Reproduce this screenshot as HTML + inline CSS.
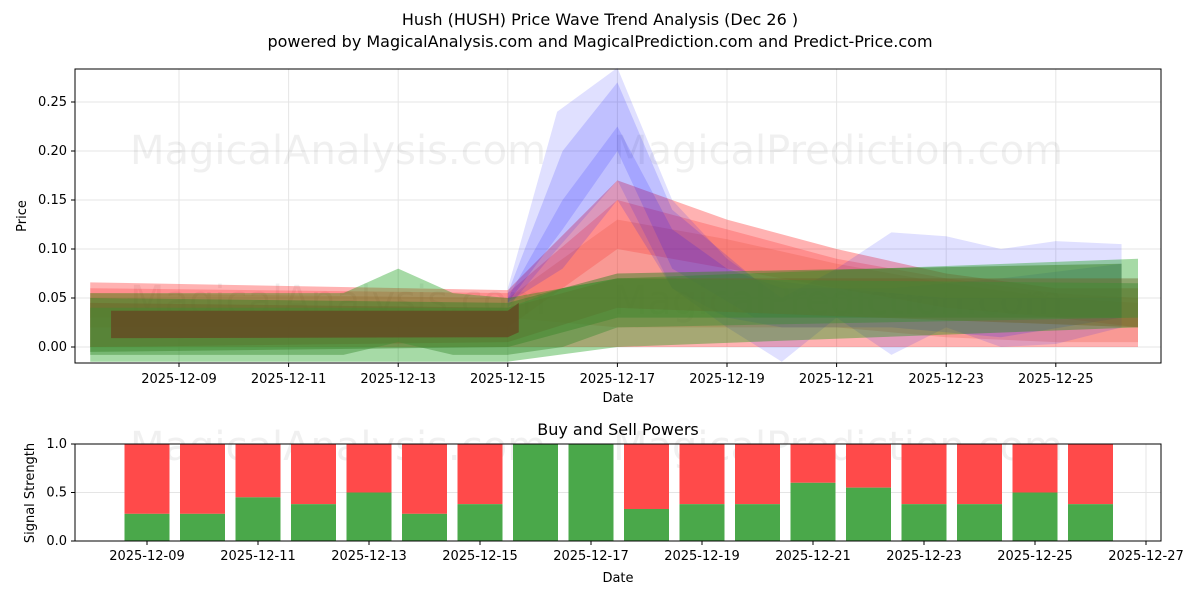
<!DOCTYPE html>
<html><head><meta charset="utf-8"><style>
body{margin:0;background:#fff;font-family:"Liberation Sans","DejaVu Sans",sans-serif}
svg text{font-family:"DejaVu Sans","Liberation Sans",sans-serif}
</style></head><body>
<svg id="c" width="1200" height="600" xmlns="http://www.w3.org/2000/svg">
<rect width="1200" height="600" fill="#fff"/>
<text x="600" y="25" font-size="16" text-anchor="middle">Hush (HUSH) Price Wave Trend Analysis (Dec 26 )</text>
<text x="600" y="47" font-size="16" text-anchor="middle">powered by MagicalAnalysis.com and MagicalPrediction.com and Predict-Price.com</text>
<g id="topg"></g><g id="botg"></g>
</svg>
<script>
// Top chart data
const bandDays = [
 [7.38,15,17,19,21,23,25,26.5],
 [7.38,15,17,19,21,23,25,26.5],
 [7.38,15,17,19,21,23,25,26.5],
 [15,15.9,17,18,19,20,21,22,23,24,25,26.2],
 [15,16,17,18,19.5,21,23,26.2],
 [15,16,17,18,19,20,22,24,26.2],
 [7.38,12,13,14,15,17,26.5],
 [7.38,15,17,26.2],
 [7.38,15,17,26.5],
 [7.38,12,13,14,15,16,17,26.5],
 [7.76,15,15.2]
];
const bandUpper = [
 [0.066,0.058,0.17,0.13,0.1,0.075,0.06,0.06],
 [0.06,0.055,0.15,0.12,0.09,0.07,0.055,0.05],
 [0.055,0.05,0.13,0.11,0.085,0.065,0.05,0.045],
 [0.06,0.24,0.285,0.15,0.09,0.05,0.08,0.117,0.113,0.1,0.108,0.105],
 [0.055,0.2,0.27,0.14,0.07,0.06,0.05,0.05],
 [0.05,0.15,0.225,0.12,0.08,0.06,0.06,0.07,0.085],
 [0.055,0.055,0.08,0.055,0.05,0.07,0.09,0.097],
 [0.05,0.045,0.075,0.085],
 [0.045,0.04,0.07,0.07],
 [0.04,0.04,0.04,0.04,0.04,0.06,0.07,0.065],
 [0.037,0.037,0.045]
];
const bandLower = [
 [0.0,0.0,0.0,0.0,0.0,0.0,0.0,0.0],
 [0.02,0.02,0.1,0.08,0.06,0.04,0.03,0.02],
 [0.03,0.03,0.02,0.02,0.02,0.01,0.005,0.005],
 [0.04,0.1,0.17,0.06,0.02,-0.015,0.03,-0.008,0.02,0.0,0.003,0.02],
 [0.045,0.12,0.2,0.08,0.03,0.03,0.03,0.03],
 [0.045,0.08,0.15,0.06,0.03,0.02,0.02,0.01,0.03],
 [-0.015,-0.015,-0.015,-0.015,-0.015,0.0,0.02,0.02],
 [-0.005,0.0,0.03,0.03],
 [0.0,0.005,0.04,0.02],
 [-0.008,-0.008,0.005,-0.008,-0.008,0.0,0.02,0.03],
 [0.009,0.01,0.015]
];
const bandColors = ['rgba(255,0,0,0.3)','rgba(255,0,0,0.2)','rgba(230,80,60,0.25)','rgba(0,0,255,0.12)','rgba(0,0,255,0.14)','rgba(0,0,255,0.14)','rgba(0,150,0,0.35)','rgba(60,130,40,0.5)','rgba(110,100,40,0.45)','rgba(60,140,50,0.45)','rgba(100,75,35,0.85)'];
const priceTicks = [0,0.05,0.10,0.15,0.20,0.25];
const topDateTicks = ['2025-12-09','2025-12-11','2025-12-13','2025-12-15','2025-12-17','2025-12-19','2025-12-21','2025-12-23','2025-12-25'];
const topDateDays = [9,11,13,15,17,19,21,23,25];
// Bottom chart data
const barDays = [9,10,11,12,13,14,15,16,17,18,19,20,21,22,23,24,25,26];
const buyValues = [0.28,0.28,0.45,0.38,0.5,0.28,0.38,1.0,1.0,0.33,0.38,0.38,0.6,0.55,0.38,0.38,0.5,0.38];
const botDateTicks = ['2025-12-09','2025-12-11','2025-12-13','2025-12-15','2025-12-17','2025-12-19','2025-12-21','2025-12-23','2025-12-25','2025-12-27'];
const botDateDays = [9,11,13,15,17,19,21,23,25,27];
const strengthTicks = [0,0.5,1.0];

const NS='http://www.w3.org/2000/svg';
function mk(p,t,a,txt){const e=document.createElementNS(NS,t);for(const k in a)e.setAttribute(k,a[k]);if(txt!==undefined)e.textContent=txt;p.appendChild(e);return e;}
const gTop=document.getElementById('topg'), gBot=document.getElementById('botg');
const tx=d=>179+(d-9)*54.8, ty=v=>347-v*980;
const bx=d=>147+(d-9)*55.5, by=v=>541-v*97;
const TL=75,TR=1161,TT=69,TB=363, BT=444,BB=541;

priceTicks.forEach(v=>{mk(gTop,'line',{x1:TL,x2:TR,y1:ty(v),y2:ty(v),stroke:'#e5e5e5'});});
topDateDays.forEach(d=>{mk(gTop,'line',{x1:tx(d),x2:tx(d),y1:TT,y2:TB,stroke:'#e5e5e5'});});
[[338,150,'MagicalAnalysis.com'],[838,150,'MagicalPrediction.com'],[338,300,'MagicalAnalysis.com'],[838,300,'MagicalPrediction.com'],[338,446,'MagicalAnalysis.com'],[838,446,'MagicalPrediction.com']].forEach(w=>{
 const t=mk(gTop,'text',{x:w[0],y:w[1]+14,'font-size':40,'text-anchor':'middle',fill:'rgba(0,0,0,0.06)'},w[2]);
 
 
});
bandDays.forEach((days,i)=>{
 let pts=days.map((d,j)=>tx(d)+','+ty(bandUpper[i][j]));
 for(let j=days.length-1;j>=0;j--)pts.push(tx(days[j])+','+ty(bandLower[i][j]));
 const p=mk(gTop,'polygon',{points:pts.join(' '),fill:bandColors[i]});
 
 
});
mk(gTop,'rect',{x:TL,y:TT,width:TR-TL,height:TB-TT,fill:'none',stroke:'#000'});
priceTicks.forEach(v=>{mk(gTop,'line',{x1:TL-4,x2:TL,y1:ty(v),y2:ty(v),stroke:'#000'});
 const t=mk(gTop,'text',{x:TL-8,y:ty(v)+4,'font-size':13,'text-anchor':'end'},v.toFixed(2));
 });
topDateDays.forEach((d,i)=>{mk(gTop,'line',{x1:tx(d),x2:tx(d),y1:TB,y2:TB+4,stroke:'#000'});
 const t=mk(gTop,'text',{x:tx(d),y:TB+20,'font-size':13,'text-anchor':'middle'},topDateTicks[i]);
 });
let t=mk(gTop,'text',{x:618,y:402,'font-size':13,'text-anchor':'middle'},'Date');
t=mk(gTop,'text',{x:26,y:216,'font-size':13,'text-anchor':'middle',transform:'rotate(-90 26 216)'},'Price');

t=mk(gBot,'text',{x:618,y:435,'font-size':16,'text-anchor':'middle'},'Buy and Sell Powers');
strengthTicks.forEach(v=>mk(gBot,'line',{x1:TL,x2:TR,y1:by(v),y2:by(v),stroke:'#e5e5e5'}));
botDateDays.forEach(d=>mk(gBot,'line',{x1:bx(d),x2:bx(d),y1:BT,y2:BB,stroke:'#e5e5e5'}));
barDays.forEach((d,i)=>{
 const x=bx(d)-22.5, v=buyValues[i];
 const s=mk(gBot,'rect',{x:x,y:by(1),width:45,height:by(v)-by(1),fill:'#ff4a4a'});
 
 const b=mk(gBot,'rect',{x:x,y:by(v),width:45,height:by(0)-by(v),fill:'#4aa84a'});
 
});
mk(gBot,'rect',{x:TL,y:BT,width:TR-TL,height:BB-BT,fill:'none',stroke:'#000'});
strengthTicks.forEach(v=>{mk(gBot,'line',{x1:TL-4,x2:TL,y1:by(v),y2:by(v),stroke:'#000'});
 const t=mk(gBot,'text',{x:TL-8,y:by(v)+4,'font-size':13,'text-anchor':'end'},v.toFixed(1));
 });
botDateDays.forEach((d,i)=>{mk(gBot,'line',{x1:bx(d),x2:bx(d),y1:BB,y2:BB+4,stroke:'#000'});
 const t=mk(gBot,'text',{x:bx(d),y:BB+19,'font-size':13,'text-anchor':'middle'},botDateTicks[i]);
 });
t=mk(gBot,'text',{x:618,y:582,'font-size':13,'text-anchor':'middle'},'Date');
t=mk(gBot,'text',{x:34,y:493,'font-size':13,'text-anchor':'middle',transform:'rotate(-90 34 493)'},'Signal Strength');
</script>
</body></html>
